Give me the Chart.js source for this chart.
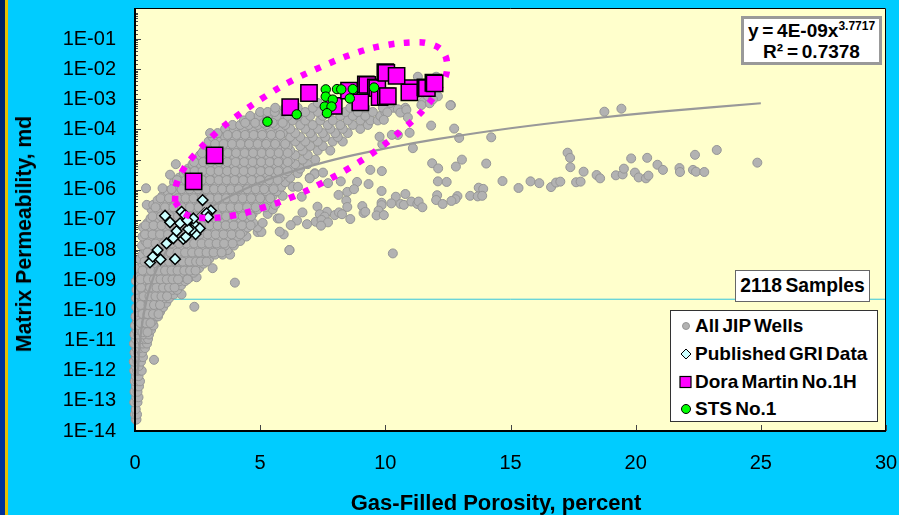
<!DOCTYPE html>
<html>
<head>
<meta charset="utf-8">
<script src="https://cdn.jsdelivr.net/npm/chart.js@4"></script>
<style>
    html, body { margin: 0; padding: 0; background: #00ccff; overflow: hidden; }
    #wrap { position: relative; width: 899px; height: 515px; font-family: "Liberation Sans", Arial, sans-serif; color: #000; }
    #stripe-blue { position: absolute; left: 0; top: 0; width: 5px; height: 515px; background: linear-gradient(#002060, #003399 60%); }
    #stripe-gold { position: absolute; left: 5px; top: 0; width: 3px; height: 515px; background: #e8c000; }
    canvas { position: absolute; left: 0; top: 0; }
    .box { position: absolute; background: #fff; box-sizing: border-box; font-weight: bold; white-space: nowrap; }
    .axis-title { position: absolute; font-weight: bold; white-space: nowrap; transform: translate(-50%, -50%); }
    #x-title { left: 496px; top: 503px; font-size: 22px; }
    #y-title { left: 24px; top: 234px; font-size: 21.2px; transform: translate(-50%, -50%) rotate(-90deg); }
    #equation { left: 741px; top: 16px; width: 141px; height: 49px; border: 3px solid #999; text-align: center; font-size: 19px; line-height: 21px; padding-top: 1px; word-spacing: -1.5px; }
    #equation sup { font-size: 12px; line-height: 0; }
    #samples { left: 735px; top: 270px; width: 135px; height: 32px; border: 1.5px solid #666; text-align: center; font-size: 19.3px; line-height: 29px; word-spacing: -2px; }
    #legend { left: 670px; top: 310px; width: 208px; height: 112px; border: 1.5px solid #333; font-size: 19px; word-spacing: -2px; }
    .row { position: absolute; left: 0; height: 24px; line-height: 24px; }
    .row span { position: absolute; left: 24px; white-space: nowrap; }
    .row svg { position: absolute; left: 6px; top: 4px; }
</style>
</head>
<body>
<div id="wrap">
    <div id="stripe-blue"></div>
    <div id="stripe-gold"></div>
    <canvas id="chart" width="899" height="515"></canvas>
    <div class="axis-title" id="x-title">Gas-Filled Porosity, percent</div>
    <div class="axis-title" id="y-title">Matrix Permeability, md</div>
    <div class="box" id="equation">y = 4E-09x<sup>3.7717</sup><br>R² = 0.7378</div>
    <div class="box" id="samples">2118 Samples</div>
    <div class="box" id="legend">
        <div class="row" style="top:3px"><svg width="18" height="16"><circle cx="9" cy="8" r="3.5" fill="#b2b2b2" stroke="#969696"/></svg><span>All JIP Wells</span></div>
        <div class="row" style="top:31px"><svg width="18" height="16"><path d="M9 3 L14 8 L9 13 L4 8 Z" fill="#ccffff" stroke="#000"/></svg><span>Published GRI Data</span></div>
        <div class="row" style="top:59px"><svg width="18" height="16"><rect x="3" y="2.5" width="11" height="11" fill="#ff00ff" stroke="#000" stroke-width="1.2"/></svg><span>Dora Martin No.1H</span></div>
        <div class="row" style="top:86px"><svg width="18" height="16"><circle cx="9" cy="8" r="4.5" fill="#00ff00" stroke="#000"/></svg><span>STS No.1</span></div>
    </div>
</div>
<script>
// values are [porosity, log10(permeability)]

// dense cloud, typed row by row: [log10 k, [porosity, ...]]
const wellRows = [
    [-13.62, [.03, .06]], [-13.45, [0, .08]], [-13.28, [.03]], [-13.05, [-.03, .1]],
    [-12.88, [.05, .14]], [-12.7, [-.02, .1]], [-12.52, [.04, .16]], [-12.35, [-.01, .09, .2]],
    [-12.18, [.03, .14]], [-12, [-.03, .08, .22, .27]], [-11.85, [.02, .15]], [-11.7, [-.05, .1, .24]],
    [-11.64, [.76]], [-11.55, [.04, .18, .32]], [-11.4, [-.02, .12, .28]], [-11.25, [.06, .2, .4]],
    [-11.1, [-.04, .14, .32, .48]], [-10.95, [.03, .24, .42, .52]], [-10.8, [-.02, .12, .34, .56]],
    [-10.65, [.06, .22, .46, .64]], [-10.5, [0, .16, .36, .58, .74]], [-10.35, [.08, .28, .5, .7]],
    [-10.2, [.02, .2, .42, .64, .86, .92]], [-10.05, [.12, .34, .56, .78, 1]],
    [-9.9, [.05, .26, .48, .7, .92, 1.12]], [-9.75, [.16, .38, .6, .84, 1.06, 1.25]],
    [-9.88, [2.37]], [-9.6, [.04, .28, .5, .74, .98, 1.2, 1.36]],
    [-9.47, [.14, .4, .64, .88, 1.12, 1.34, 1.55, 1.86]], [-9.32, [.06, .3, .54, .8, 1.04, 1.28, 1.5, 1.68]],
    [-9.17, [.18, .44, .68, .92, 1.18, 1.42, 1.64, 1.84]], [-9.08, [3.99]],
    [-9.03, [.04, .32, .58, .82, 1.08, 1.32, 1.56, 1.78, 2]],
    [-8.9, [.12, .46, .72, .98, 1.22, 1.46, 1.7, 1.94, 2.2, 2.46]],
    [-8.75, [.24, .58, .86, 1.12, 1.38, 1.62, 1.86, 2.12, 2.34]],
    [-8.6, [.14, .4, .72, 1, 1.26, 1.52, 1.78, 2.04, 2.3, 2.56, 3.1]],
    [-8.45, [.3, .56, .84, 1.14, 1.42, 1.68, 1.96, 2.22, 2.48, 2.74]],
    [-8.3, [.2, .46, .72, 1, 1.3, 1.58, 1.86, 2.14, 2.42, 2.7, 2.96]],
    [-8.15, [.3, .62, .9, 1.2, 1.48, 1.76, 2.04, 2.32, 2.6, 2.88, 3.2, 3.5, 3.8]],
    [-8, [.42, .76, 1.06, 1.36, 1.66, 1.94, 2.24, 2.52, 2.82, 3.1, 3.4, 3.7, 6.17]],
    [-7.85, [.28, .58, .9, 1.22, 1.52, 1.82, 2.12, 2.42, 2.72, 3, 3.3, 3.6, 3.95]],
    [-7.7, [.42, .74, 1.06, 1.38, 1.7, 2, 2.3, 2.6, 2.9, 3.2, 3.5, 3.85, 4.2]],
    [-7.55, [.3, .6, .92, 1.24, 1.56, 1.88, 2.18, 2.5, 2.8, 3.12, 3.42, 3.76, 4.1, 4.45]],
    [-7.4, [.5, .78, 1.1, 1.42, 1.74, 2.06, 2.38, 2.7, 3, 3.32, 3.64, 3.98, 4.3, 4.9, 5.05]],
    [-7.25, [.32, .64, .96, 1.28, 1.6, 1.92, 2.24, 2.56, 2.88, 3.2, 3.52, 3.84, 4.16, 4.5, 4.9]],
    [-7.1, [.5, .82, 1.14, 1.46, 1.78, 2.1, 2.42, 2.74, 3.06, 3.38, 3.7, 4.02, 4.36, 4.72, 5.1]],
    [-6.95, [.62, .96, 1.3, 1.62, 1.94, 2.26, 2.58, 2.9, 3.22, 3.54, 3.86, 4.2, 4.55, 5.7]],
    [-6.8, [.78, 1.12, 1.46, 1.8, 2.12, 2.44, 2.76, 3.08, 3.4, 3.72, 4.04, 4.38, 4.7, 5.3]],
    [-6.65, [.66, 1, 1.3, 1.64, 1.96, 2.3, 2.62, 2.94, 3.26, 3.58, 3.9, 4.22, 4.56, 4.9, 5.5]],
    [-6.5, [.47, .73, 1.14, 1.48, 1.8, 2.14, 2.46, 2.78, 3.1, 3.42, 3.74, 4.06, 4.4, 4.74, 5.1, 5.6]],
    [-6.35, [.9, 1.28, 1.62, 1.96, 2.28, 2.6, 2.92, 3.24, 3.56, 3.88, 4.2, 4.56, 4.9, 5.3]],
    [-6.2, [1.1, 1.44, 1.78, 2.1, 2.42, 2.76, 3.08, 3.4, 3.72, 4.04, 4.38, 4.72, 5.08, 5.5, 5.9]],
    [-6.05, [1.3, 1.6, 1.94, 2.26, 2.6, 2.92, 3.24, 3.56, 3.9, 4.22, 4.56, 4.9, 5.24, 5.66]],
    [-5.95, [.44, 1.1]],
    [-5.9, [1.78, 2.1, 2.44, 2.76, 3.08, 3.4, 3.74, 4.06, 4.4, 4.74, 5.08, 5.44, 5.84, 6.3]],
    [-5.75, [1.56, 1.94, 2.28, 2.6, 2.92, 3.26, 3.58, 3.9, 4.24, 4.58, 4.92, 5.26, 5.6, 6]],
    [-5.6, [1.76, 2.1, 2.44, 2.76, 3.1, 3.42, 3.74, 4.08, 4.4, 4.74, 5.1, 5.44, 5.8, 6.2, 6.98]],
    [-5.5, [1.4]],
    [-5.45, [1.95, 2.28, 2.6, 2.94, 3.26, 3.58, 3.92, 4.24, 4.58, 4.92, 5.26, 5.6, 6, 6.5, 7.18]],
    [-5.3, [2.12, 2.46, 2.78, 3.1, 3.42, 3.76, 4.08, 4.42, 4.76, 5.1, 5.44, 5.8, 6.2, 6.6]],
    [-5.15, [1.63, 2.3, 2.62, 2.94, 3.26, 3.6, 3.92, 4.26, 4.6, 4.94, 5.28, 5.62, 6, 6.4, 6.9]],
    [-5, [2.44, 2.8, 3.1, 3.44, 3.76, 4.1, 4.44, 4.78, 5.12, 5.46, 5.8, 6.2, 6.7, 7.2]],
    [-4.85, [2.6, 2.96, 3.28, 3.6, 3.94, 4.28, 4.62, 4.96, 5.3, 5.64, 6, 6.4, 6.9]],
    [-4.7, [2.74, 3.12, 3.44, 3.78, 4.12, 4.46, 4.8, 5.14, 5.48, 5.84, 6.2, 6.7, 7.3, 7.8]],
    [-4.55, [2.9, 3.28, 3.62, 3.96, 4.3, 4.64, 4.98, 5.32, 5.7, 6.1, 6.6, 7, 7.5]],
    [-4.4, [2.94, 3.4, 3.8, 4.14, 4.48, 4.82, 5.16, 5.5, 5.9, 6.4, 6.8, 7.3, 7.9, 8.3]],
    [-4.25, [3.1, 3.6, 3.98, 4.32, 4.66, 5, 5.34, 5.7, 6.2, 6.6, 7.1, 7.6, 8.1]],
    [-4.12, [3, 3.3, 3.8, 4.16, 4.5, 4.84, 5.18, 5.52, 5.9, 6.4, 7, 7.5, 8, 8.5]],
    [-3.98, [3.6, 3.95, 4.34, 4.7, 5.04, 5.4, 5.8, 6.2, 6.8, 7.3, 7.8, 8.3, 9]],
    [-3.85, [3.9, 4.2, 4.54, 4.9, 5.24, 5.6, 6, 6.6, 7.1, 7.7, 8.2, 8.7, 9.3]],
    [-3.7, [4.35, 4.72, 5.06, 5.42, 5.8, 6.3, 6.8, 7.4, 7.9, 8.5, 9, 9.4, 9.7]],
    [-3.55, [4.6, 4.94, 5.3, 5.66, 6.1, 6.5, 7, 7.5, 8.2, 8.7, 9.2, 9.8]],
    [-3.42, [5, 5.3, 5.58, 5.95, 6.3, 6.8, 7.3, 7.8, 8.4, 8.9, 9.5, 10]],
    [-3.28, [5.6, 6, 6.5, 7.1, 7.6, 8.6, 9.2, 9.9, 10.3, 10.8]],
    [-3.12, [7.3, 8, 8.8, 10.2]]
];

// second pass over the same cloud, samples lying between the rows above
const wellRowsInner = [
    [-10.72, [.3, .5]], [-10.42, [.22, .44, .62]], [-10.12, [.3, .5, .72, .94]],
    [-9.82, [.22, .54, .76, 1]], [-9.53, [.34, .58, .82, 1.06, 1.28]],
    [-9.24, [.24, .6, .86, 1.12, 1.36, 1.58]], [-8.97, [.22, .52, .76, 1.02, 1.27, 1.5, 1.72, 2.1]],
    [-8.68, [.3, .64, .94, 1.2, 1.46, 1.7, 1.97, 2.2, 2.42]],
    [-8.38, [.38, .68, 1.08, 1.36, 1.62, 1.9, 2.18, 2.44, 2.62, 2.86]],
    [-8.08, [.5, .84, 1.12, 1.42, 1.7, 2, 2.28, 2.56, 2.86, 3.14, 3.46]],
    [-7.78, [.5, .82, 1.14, 1.46, 1.76, 2.06, 2.36, 2.66, 2.96, 3.26, 3.56, 3.9]],
    [-7.48, [.4, .7, 1, 1.32, 1.64, 1.96, 2.28, 2.6, 2.9, 3.22, 3.54, 3.86, 4.2]],
    [-7.18, [.42, .74, 1.06, 1.38, 1.7, 2.02, 2.34, 2.66, 2.98, 3.3, 3.62, 3.94, 4.28, 4.62]],
    [-6.88, [.7, 1.04, 1.38, 1.72, 2.04, 2.36, 2.68, 3, 3.32, 3.64, 3.96, 4.3, 4.64]],
    [-6.58, [.82, 1.2, 1.54, 1.88, 2.2, 2.54, 2.86, 3.18, 3.5, 3.82, 4.14, 4.48, 4.82, 5.2]],
    [-6.28, [1.02, 1.36, 1.7, 2.02, 2.34, 2.68, 3, 3.32, 3.64, 3.96, 4.3, 4.64, 5, 5.4]],
    [-5.98, [1.46, 1.86, 2.18, 2.52, 2.84, 3.16, 3.48, 3.82, 4.14, 4.48, 4.82, 5.16, 5.54]],
    [-5.68, [1.68, 2.02, 2.36, 2.68, 3, 3.34, 3.66, 3.98, 4.32, 4.66, 5, 5.36, 5.7]],
    [-5.38, [2.04, 2.38, 2.7, 3.02, 3.34, 3.68, 4, 4.34, 4.68, 5.02, 5.36, 5.72, 6.1]],
    [-5.08, [2.36, 2.72, 3.02, 3.36, 3.68, 4.02, 4.36, 4.7, 5.04, 5.38, 5.72, 6.1]],
    [-4.78, [2.68, 3.04, 3.36, 3.7, 4.04, 4.38, 4.72, 5.06, 5.4, 5.74, 6.1]],
    [-4.48, [3.2, 3.54, 3.88, 4.22, 4.56, 4.9, 5.24, 5.6, 6]],
    [-4.18, [3.7, 4.06, 4.4, 4.74, 5.08, 5.44, 5.8]],
    [-3.78, [4.4, 4.8, 5.14, 5.5, 5.9]]
];

// scattered samples right of the cloud
const wellsSparse = [
    [18.75,-3.41],[19.43,-3.31],[12.75,-3.97],[12.62,-3.19],[12.95,-4.28],[14.23,-4.26],[13.06,-5],[12.82,-5.23],
    [14.03,-5.13],[17.28,-4.77],[17.38,-4.94],[17.39,-5.25],[17.92,-5.4],[18.44,-5.51],[18.58,-5.62],[19.21,-5.52],
    [19.48,-5.49],[19.53,-5.3],[19.82,-4.96],[20.46,-4.94],[19.97,-5.43],[20.12,-5.59],[20.41,-5.62],[20.51,-5.53],
    [20.87,-5.17],[21.09,-5.34],[21.75,-5.28],[21.77,-5.41],[22.29,-5.34],[22.41,-5.4],[22.74,-5.41],[22.37,-4.84],
    [23.24,-4.68],[24.86,-5.1],[14.68,-5.71],[15.32,-5.94],[15.8,-5.72],[16.15,-5.78],[16.62,-5.91],[16.82,-5.76],
    [16.99,-5.73],[17.62,-5.75],[17.8,-5.73],[13.39,-6.2],[13.73,-5.93],[13.91,-5.97],[13.69,-6.22],[13.87,-6.2],
    [12.88,-6.21],[12.8,-6.31],[12.64,-6.37],[11.83,-3.87],[11.1,-4.62],[11.87,-5.12],[12.11,-5.29],[9.86,-5.38],
    [11.5,-3.08],[11.77,-3.13],[11.44,-3.19],[10.08,-3.43],[10.5,-3.33],[10.6,-3.44],[10.84,-3.35],[10.9,-3.6],
    [9.94,-3.68],[10.97,-4.11],[10.5,-4.18],[10.26,-4.18],[9.88,-4.49],[9.77,-4.24],[12.1,-5.72],[12.45,-5.74],
    [9.33,-5.81],[9.85,-6.04],[8.87,-5.74],[8.48,-6.07],[8.13,-6.17],[8.75,-5.98],[10.42,-6.23],[10.8,-6.14],
    [10.24,-6.45],[10.61,-6.47],[10.74,-6.5],[11.04,-6.39],[11.28,-6.47],[11.33,-6.39],[11.48,-6.58],[12.07,-6.18],
    [12.03,-6.34],[12.29,-6.47],[9.08,-6.54],[9.85,-6.43],[9.85,-6.51],[9.73,-6.69],[9.65,-6.85],[9.94,-6.84],
    [9.13,-6.77],[9.2,-6.73],[8.44,-6.36],[8.48,-6.57],[7.29,-6.56],[6.69,-6.75],[7.67,-6.73],[7.38,-6.81],
    [7.58,-6.89],[7.98,-6.84],[8.15,-6.75],[8.27,-6.81],[8.6,-6.97],[7.22,-7.06],[7.45,-7],[7.71,-7.08],[7.43,-7.19],
    [6.87,-7.14],[6.47,-7.02],[6.22,-7.17],[5.94,-7.48],[5.78,-7.39],[5.78,-6.95],[6.17,-8],[10.3,-8.11],[6.66,-6.23],
    [6.51,-5.9],[7.18,-5.48],[6.98,-5.62],[8.22,-5.72],[7.71,-5.78],[7.51,-5.43],[9.4,-5.34],[11.3,-2.25],[12.03,-2.25],
    [11.4,-2.5],[11.3,-2.8],[11.7,-2.9],[12.1,-2.9],[11.9,-3],[12.6,-3.2]
];

const griData = [
    [.6,-8.41],[.71,-8.22],[.9,-8],[1.02,-8.31],[1.6,-8.3],[1.26,-7.78],[1.53,-7.61],[1.93,-7.63],[2.03,-7.56],
    [1.66,-7.37],[1.4,-7.08],[1.2,-6.86],[1.8,-7.11],[1.86,-6.73],[1.99,-6.84],[2.39,-7.17],[2.59,-7.28],[2.42,-7.47],
    [2.26,-7.33],[2.13,-7.3],[2.7,-6.34],[3.03,-6.69],[2.86,-6.78],[2.92,-6.91],[2.33,-6.95],[2.09,-7.02]
];
const griTrend = [[1.48,-7.66],[2.79,-6.57]];

const doraMartin = [
    [2.34,-5.72],[3.18,-4.86],[6.2,-3.26],[6.95,-2.79],[7.94,-3.22],[8.55,-2.71],[9.22,-2.5],[9.28,-2.52],[9.62,-2.6],
    [9.68,-2.63],[9.77,-2.93],[10.02,-2.9],[10.1,-2.89],[10,-2.1],[10.04,-2.12],[10.45,-2.22],[11.1,-2.63],[10.96,-2.77],
    [11.6,-2.6],[11.66,-2.63],[11.92,-2.45],[11.97,-2.47],[9,-3.1]
];

const stsNo1 = [
    [5.29,-3.74],[6.46,-3.5],[7.62,-2.67],[7.62,-2.91],[7.9,-3.01],[7.58,-3.24],[7.85,-3.24],[7.67,-3.46],
    [8.07,-2.66],[8.24,-2.67],[8.7,-2.66],[8.58,-2.97],[9.55,-2.61]
];

// power-law trend as it reads on the plot
const trendLine = [
    [.1,-12.17],[.2,-11.03],[.3,-10.37],[.5,-9.53],[.75,-8.87],[1,-8.4],[1.5,-7.73],[2,-7.26],[3,-6.6],[4,-6.13],
    [5,-5.76],[6,-5.46],[8,-4.99],[10,-4.63],[12,-4.33],[15,-3.96],[18,-3.66],[21,-3.41],[25,-3.13]
];

// hand-drawn dotted ellipse round the Barnett samples
const ellipseLine = [
    [1.6,-6.4],[1.64,-5.86],[1.9,-5.37],[2.26,-4.95],[3.15,-4.18],[4.12,-3.52],[5.19,-2.91],[6.29,-2.37],[7.45,-1.92],
    [8.62,-1.52],[9.85,-1.23],[11.13,-1.11],[11.77,-1.16],[12.3,-1.42],[12.47,-1.92],[12.3,-2.43],[11.57,-3.3],
    [10.66,-4.02],[9.65,-4.69],[8.58,-5.27],[7.46,-5.78],[6.31,-6.23],[5.12,-6.59],[3.88,-6.86],[2.59,-6.93],
    [1.97,-6.78],[1.6,-6.4]
];

const samplesLine = [[0,-9.63],[30,-9.63]];

const toPoint = ([x, e]) => ({ x: x, y: Math.pow(10, e) });
const wellPoints = wellRows.concat(wellRowsInner)
    .flatMap(([e, xs]) => xs.map(x => toPoint([x, e])))
    .concat(wellsSparse.map(toPoint));

// chart.js keeps the top of the scale 13px down, the frame goes 5px above that
const frameLift = 5;

// yellow plot background, thin frame and the inward tick marks
const plotFrame = {
    id: 'plotFrame',
    beforeDatasetsDraw(chart) {
        const { ctx, chartArea: a, scales } = chart;
        ctx.save();
        ctx.fillStyle = '#ffffcc';
        ctx.fillRect(a.left, a.top - frameLift, a.width, a.height + frameLift);
        ctx.strokeStyle = '#444';
        ctx.lineWidth = 1;
        ctx.beginPath();
        scales.y.ticks.forEach(t => {
            const py = Math.round(scales.y.getPixelForValue(t.value)) + .5;
            const major = Math.abs(Math.log10(t.value) % 1) < 1e-6;
            ctx.moveTo(a.left, py);
            ctx.lineTo(a.left + (major ? 6 : 3), py);
        });
        scales.x.ticks.forEach(t => {
            const px = Math.round(scales.x.getPixelForValue(t.value)) + .5;
            ctx.moveTo(px, a.bottom);
            ctx.lineTo(px, a.bottom - 6);
        });
        ctx.stroke();
        ctx.restore();
    },
    afterDatasetsDraw(chart) {
        const { ctx, chartArea: a } = chart;
        ctx.save();
        ctx.strokeStyle = '#000';
        ctx.lineWidth = 1;
        ctx.beginPath();
        ctx.moveTo(a.left, a.top - frameLift + .5);
        ctx.lineTo(a.right - .5, a.top - frameLift + .5);
        ctx.lineTo(a.right - .5, a.bottom);
        ctx.stroke();
        ctx.lineWidth = 2;
        ctx.beginPath();
        ctx.moveTo(a.left, a.top - frameLift);
        ctx.lineTo(a.left, a.bottom);
        ctx.lineTo(a.right, a.bottom);
        ctx.stroke();
        ctx.restore();
    }
};

new Chart(document.getElementById('chart'), {
    type: 'scatter',
    data: {
        datasets: [
            { label: 'Sample line', data: samplesLine.map(toPoint), showLine: true, borderColor: '#33c6dd', borderWidth: 1, pointRadius: 0, order: 9 },
            { label: 'All JIP Wells', data: wellPoints, backgroundColor: '#b2b2b2', borderColor: '#969696', borderWidth: 1, pointRadius: 4.5, clip: false, order: 8 },
            { label: 'Trend', data: trendLine.map(toPoint), showLine: true, borderColor: '#999999', borderWidth: 2.2, tension: .4, pointRadius: 0, order: 7 },
            { label: 'GRI trend', data: griTrend.map(toPoint), showLine: true, borderColor: '#333', borderWidth: 1, pointRadius: 0, order: 6 },
            { label: 'Published GRI Data', data: griData.map(toPoint), pointStyle: 'rectRot', backgroundColor: '#ccffff', borderColor: '#000', borderWidth: 1.5, pointRadius: 5.3, order: 5 },
            { label: 'Outline', data: ellipseLine.map(toPoint), showLine: true, borderColor: '#ff00ff', borderWidth: 6.5, borderDash: [6, 9.5], tension: .4, pointRadius: 0, order: 4 },
            { label: 'Dora Martin No.1H', data: doraMartin.map(toPoint), pointStyle: 'rect', backgroundColor: '#ff00ff', borderColor: '#000', borderWidth: 1.5, pointRadius: 11.5, order: 3 },
            { label: 'STS No.1', data: stsNo1.map(toPoint), backgroundColor: '#00ff00', borderColor: '#000', borderWidth: 1, pointRadius: 4.7, order: 2 }
        ]
    },
    options: {
        responsive: false,
        animation: false,
        layout: { padding: { left: 14, top: 4, right: 12, bottom: 0 } },
        plugins: { legend: { display: false }, tooltip: { enabled: false } },
        scales: {
            x: {
                type: 'linear',
                min: 0,
                max: 30,
                afterFit: scale => { scale.height = 84; scale.paddingLeft = 0; scale.paddingRight = 0; },
                border: { display: false },
                grid: { display: false },
                ticks: { stepSize: 5, padding: 12, color: '#000', font: { family: 'Liberation Sans', size: 20 }, maxRotation: 0 }
            },
            y: {
                type: 'logarithmic',
                min: 1e-14,
                max: 0.73,
                afterFit: scale => { scale.width = 121; scale.paddingTop = 0; scale.paddingBottom = 0; },
                border: { display: false },
                grid: { display: false },
                ticks: {
                    autoSkip: false,
                    padding: 11,
                    color: '#000',
                    font: { family: 'Liberation Sans', size: 20 },
                    callback: value => {
                        const e = Math.round(Math.log10(value));
                        if (Math.abs(Math.log10(value) - e) > 1e-6 || e === 0) return '';
                        return '1E-' + String(-e).padStart(2, '0');
                    }
                }
            }
        }
    },
    plugins: [plotFrame]
});
</script>
</body>
</html>
